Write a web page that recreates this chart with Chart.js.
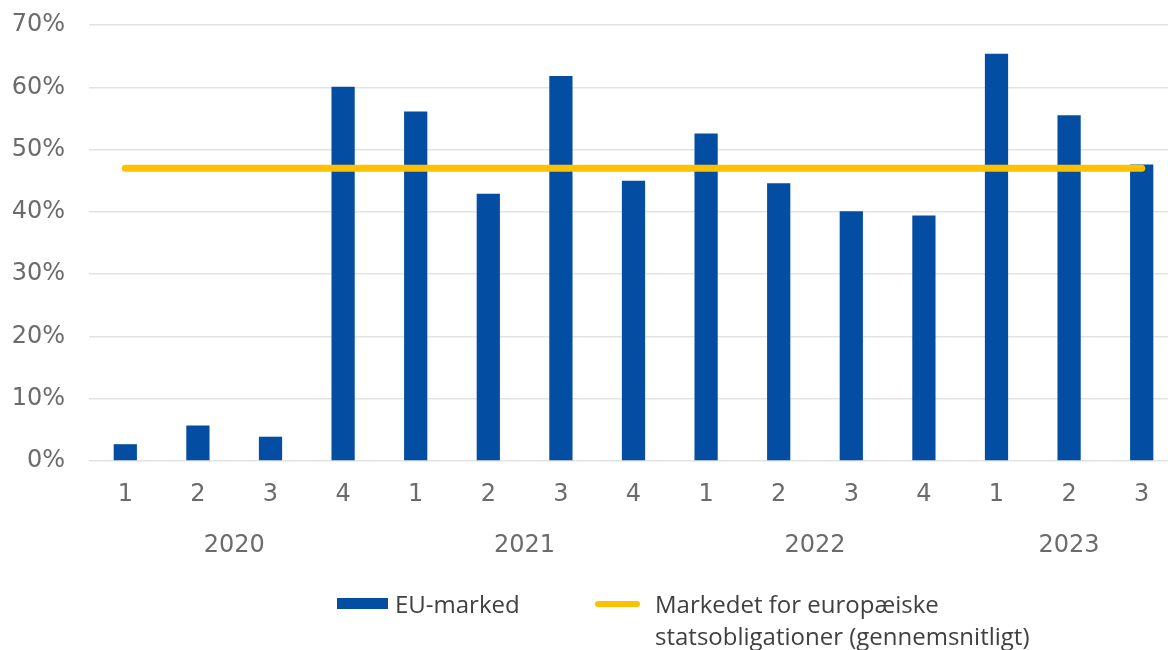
<!DOCTYPE html>
<html>
<head>
<meta charset="utf-8">
<script src="https://cdn.jsdelivr.net/npm/chart.js@4/dist/chart.umd.min.js"></script>
<style>
  html, body { margin: 0; padding: 0; background: #fff; overflow: hidden; }
  #wrap { position: relative; width: 1168px; height: 650px; overflow: hidden; }
  #legend { position: absolute; top: 588px; left: 337px; font-family: "Open Sans", sans-serif; font-size: 24px; color: #404040; }
  .item { position: absolute; top: 0; white-space: nowrap; line-height: 32px; }
  .box { position: absolute; width: 51px; height: 11px; background: #034ea2; top: 10px; left: 0; }
  .ln { position: absolute; width: 45px; height: 6px; border-radius: 3px; background: #ffc000; top: 13px; left: 0; }
</style>
</head>
<body>
<div id="wrap">
  <canvas id="grafico" width="1180" height="650"></canvas>
  <div id="legend">
    <div class="item" style="left:0"><span class="box"></span><span style="margin-left:58px">EU-marked</span></div>
    <div class="item" style="left:258px"><span class="ln"></span><div style="margin-left:60px">Markedet for europæiske<br>statsobligationer (gennemsnitligt)</div></div>
  </div>
</div>
<script>
// data
const kvartaler = ['1', '2', '3', '4', '1', '2', '3', '4', '1', '2', '3', '4', '1', '2', '3'];
const aar = ['2020', '2020', '2020', '2020', '2021', '2021', '2021', '2021', '2022', '2022', '2022', '2022', '2023', '2023', '2023'];
const euMarked = [2.7, 5.7, 3.9, 60.1, 56.1, 42.9, 61.8, 45.0, 52.6, 44.6, 40.1, 39.4, 65.4, 55.5, 47.6];
const statsobl = [47.0, 47.0, 47.0, 47.0, 47.0, 47.0, 47.0, 47.0, 47.0, 47.0, 47.0, 47.0, 47.0, 47.0, 47.0];
const yTicks = [0, 10, 20, 30, 40, 50, 60, 70];

const BLAA = '#034ea2';
const GUL = '#ffc000';
const GRAA = '#6b6b6b';

// aarstal under kvartalerne
const aarPlugin = {
  id: 'aarPlugin',
  afterDraw(chart) {
    const x = chart.scales.x;
    const ctx = chart.ctx;
    ctx.save();
    ctx.font = '24px "DejaVu Sans"';
    ctx.fillStyle = GRAA;
    ctx.textAlign = 'center';
    ctx.textBaseline = 'middle';
    const unikke = [...new Set(aar)];
    unikke.forEach(a => {
      const first = aar.indexOf(a);
      const last = aar.lastIndexOf(a);
      const midt = (x.getPixelForValue(first) + x.getPixelForValue(last)) / 2;
      ctx.fillText(a, midt, 546);
    });
    ctx.restore();
  }
};

const ctx = document.getElementById('grafico').getContext('2d');
new Chart(ctx, {
  data: {
    labels: kvartaler,
    datasets: [
      {
        type: 'line',
        label: 'Markedet for europæiske statsobligationer (gennemsnitligt)',
        data: statsobl,
        borderColor: GUL,
        borderWidth: 7,
        borderCapStyle: 'round',
        pointRadius: 0,
        fill: false,
        order: 0
      },
      {
        type: 'bar',
        label: 'EU-marked',
        data: euMarked,
        backgroundColor: BLAA,
        barPercentage: 0.32,
        categoryPercentage: 1,
        order: 1
      }
    ]
  },
  options: {
    responsive: false,
    animation: false,
    layout: { padding: { top: 25, right: 2, bottom: 89, left: 0 } },
    plugins: {
      legend: { display: false },
      tooltip: { enabled: false }
    },
    scales: {
      x: {
        grid: { display: false, drawTicks: false },
        border: { display: false },
        ticks: {
          color: GRAA,
          font: { family: 'DejaVu Sans', size: 24 },
          padding: 19,
          maxRotation: 0
        },
        afterFit(scale) {
          scale.height = 100;
          scale.paddingLeft = 0;
          scale.paddingRight = 0;
        }
      },
      y: {
        min: 0,
        max: 70,
        afterBuildTicks(scale) { scale.ticks = yTicks.map(v => ({ value: v })); },
        grid: { color: '#e3e3e3', lineWidth: 1.5, drawTicks: false },
        border: { display: false },
        ticks: {
          color: GRAA,
          font: { family: 'DejaVu Sans', size: 24 },
          padding: 24,
          callback: v => v + '%'
        },
        afterFit(scale) {
          scale.width = 89;
          // tick padding should not push the plot down
          scale.paddingTop = 0;
          scale.paddingBottom = 0;
        }
      }
    }
  },
  plugins: [aarPlugin]
});
</script>
</body>
</html>
